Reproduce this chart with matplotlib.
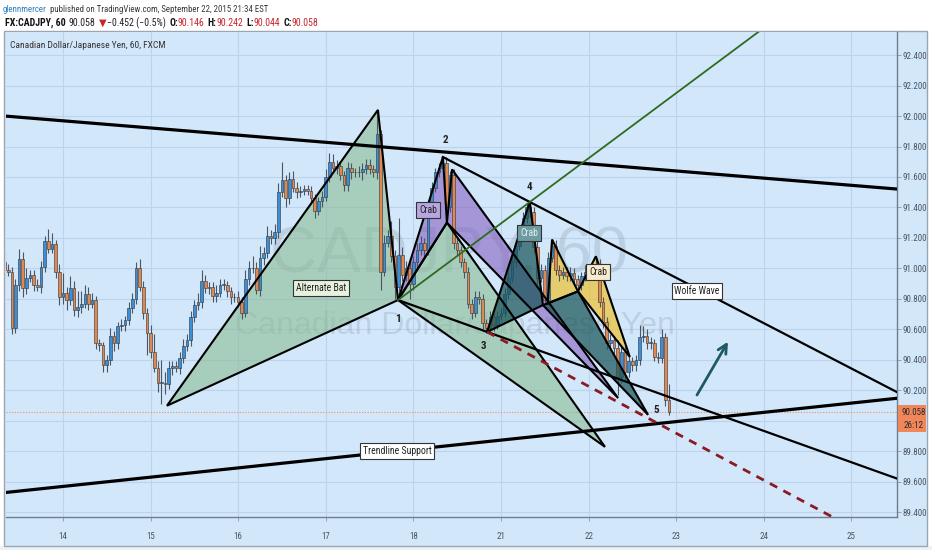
import matplotlib
matplotlib.use("Agg")
import matplotlib.pyplot as plt
import matplotlib.font_manager as fm
from matplotlib.patches import Polygon, Rectangle
from matplotlib.colors import to_rgba
import numpy as np

W, H = 932, 550

# hourly closes, CAD/JPY
closes = [
    90.99, 90.98, 90.61, 90.89, 91.06, 90.87, 90.94, 90.96, 90.89, 90.88,
    91.01, 91.18, 91.13, 91.16, 90.98, 90.81, 90.84, 90.79, 90.87, 90.73,
    90.75, 90.77, 90.83, 90.77, 90.79, 90.51, 90.50, 90.37, 90.40, 90.56,
    90.51, 90.62, 90.63, 90.66, 90.74, 90.80, 91.00, 90.88, 90.71, 90.58,
    90.45, 90.35, 90.25, 90.25, 90.24, 90.35, 90.36, 90.35, 90.41, 90.49,
    90.53, 90.68, 90.76, 90.78, 90.92, 90.87, 90.88, 90.82, 90.84, 90.89,
    90.89, 90.85, 90.81, 90.81, 90.78, 90.71, 90.93, 91.00, 91.00, 90.86,
    91.07, 91.10, 91.21, 91.20, 91.24, 91.50, 91.58, 91.46, 91.59, 91.53,
    91.50, 91.51, 91.52, 91.51, 91.46, 91.38, 91.44, 91.47, 91.60, 91.70,
    91.66, 91.67, 91.61, 91.55, 91.66, 91.63, 91.63, 91.63, 91.65, 91.68,
    91.65, 91.63, 91.88, 90.98, 91.17, 91.21, 91.08, 90.88, 91.09, 90.96,
    91.00, 90.90, 91.04, 91.12, 91.17, 91.12, 91.40, 91.53, 91.63, 91.66,
    91.69, 91.40, 91.61, 91.17, 91.12, 91.04, 90.98, 90.77, 90.71, 90.81,
    90.80, 90.64, 90.61, 90.68, 90.63, 90.69, 90.71, 90.83, 90.94, 91.04,
    91.15, 91.24, 91.33, 91.40, 91.37, 91.14, 90.94, 90.99, 90.79, 91.07,
    91.15, 90.99, 90.96, 90.98, 90.95, 90.97, 90.93, 90.89, 90.95, 90.98,
    90.99, 91.00, 91.02, 90.78, 90.65, 90.51, 90.53, 90.48, 90.29, 90.45,
    90.32, 90.39, 90.37, 90.40, 90.55, 90.56, 90.51, 90.51, 90.42, 90.41,
    90.55, 90.14, 90.058,
]
# wick lengths above / below the body, in pips (0.01)
up_wick = [
    8, 4, 3, 4, 7, 5, 6, 3, 3, 4,
    4, 3, 8, 7, 3, 5, 13, 4, 8, 5,
    10, 8, 6, 5, 5, 3, 3, 2, 3, 5,
    3, 3, 4, 3, 4, 4, 4, 6, 4, 3,
    5, 12, 4, 15, 7, 4, 3, 3, 4, 5,
    4, 4, 3, 6, 7, 4, 3, 3, 5, 4,
    4, 3, 3, 3, 4, 3, 6, 5, 8, 4,
    8, 4, 7, 4, 5, 6, 12, 3, 4, 5,
    4, 3, 3, 3, 3, 3, 3, 4, 5, 6,
    5, 4, 3, 3, 4, 3, 3, 4, 4, 4,
    4, 3, 16, 3, 5, 4, 10, 4, 24, 5,
    5, 4, 4, 5, 4, 3, 4, 4, 3, 3,
    4, 4, 3, 4, 3, 3, 3, 3, 3, 4,
    4, 3, 3, 4, 3, 3, 3, 4, 4, 4,
    4, 4, 4, 3, 4, 3, 4, 4, 3, 4,
    4, 4, 3, 3, 3, 4, 3, 3, 3, 4,
    3, 3, 5, 4, 3, 3, 4, 3, 5, 4,
    4, 4, 3, 3, 8, 6, 4, 4, 3, 3,
    5, 3, 10,
]
dn_wick = [
    5, 3, 4, 3, 4, 6, 4, 3, 4, 3,
    4, 3, 3, 3, 4, 5, 4, 6, 3, 4,
    5, 4, 3, 4, 3, 4, 4, 5, 5, 3,
    5, 4, 3, 4, 3, 3, 3, 3, 4, 15,
    4, 3, 6, 14, 6, 3, 5, 3, 4, 3,
    3, 4, 3, 3, 4, 3, 4, 4, 4, 3,
    3, 4, 4, 3, 3, 4, 3, 4, 3, 3,
    4, 5, 3, 4, 4, 4, 3, 6, 4, 3,
    4, 3, 3, 3, 4, 5, 3, 4, 3, 3,
    3, 4, 3, 4, 4, 4, 3, 3, 5, 3,
    3, 3, 4, 12, 3, 3, 4, 8, 3, 4,
    4, 10, 4, 4, 3, 4, 3, 3, 3, 3,
    3, 4, 3, 4, 3, 3, 4, 3, 4, 3,
    3, 4, 3, 3, 4, 3, 3, 3, 3, 3,
    3, 3, 3, 3, 3, 4, 4, 3, 4, 3,
    3, 3, 4, 3, 3, 3, 4, 3, 3, 3,
    3, 3, 3, 3, 4, 4, 3, 4, 12, 4,
    5, 3, 4, 4, 3, 3, 4, 4, 3, 3,
    3, 4, 2,
]
first_open = 91.04
first_bar = -16  # bar index of the first candle (0 = start of the 14th)

day_pos = [0, 24, 48, 72, 96, 120, 144, 168, 192, 216]
day_labels = ["14", "15", "16", "17", "18", "21", "22", "23", "24", "25"]
price_ticks = [89.4, 89.6, 89.8, 90.0, 90.2, 90.4, 90.6, 90.8,
               91.0, 91.2, 91.4, 91.6, 91.8, 92.0, 92.2, 92.4]
last_price = 90.058

# harmonic patterns: X, A, B, C, D  (bar index, price)
bat_pts = [(28.5, 90.10), (86.3, 92.04), (91.8, 90.793), (105.2, 91.30), (148.5, 89.83)]
purple_pts = [(91.8, 90.793), (104.1, 91.731), (105.2, 91.30), (106.6, 91.65), (152.1, 90.15)]
teal_pts = [(116.2, 90.584), (127.9, 91.436), (131.5, 90.76), (141.1, 90.85), (160.3, 90.04)]
yellow_pts = [(132.8, 90.77), (134.0, 91.19), (141.1, 90.85), (146.0, 91.08), (155.3, 90.42)]

# wolfe wave points 1..5
wolfe = [(91.8, 90.793), (104.1, 91.731), (116.2, 90.584), (127.9, 91.436), (162.5, 89.99)]

resistance = [(-16, 92.00), (229, 91.52)]
support = [(-16, 89.53), (229, 90.15)]
arrow_from = (173.7, 90.17)
arrow_to = (182.2, 90.52)

# fonts
names = {f.name for f in fm.fontManager.ttflist}
NARROW = next((n for n in ["Liberation Sans Narrow", "Roboto Condensed"] if n in names),
              "Liberation Sans")
FAM = [NARROW, "DejaVu Sans"]
plt.rcParams["font.family"] = ["Liberation Sans", "DejaVu Sans"]

BG = "#d3e7fb"
fig = plt.figure(figsize=(W / 100, H / 100), dpi=100, facecolor="white")

# outer chart panel (price axis + time axis area)
fig.add_artist(Rectangle((0, 0), 1, 4 / H, transform=fig.transFigure,
                         facecolor="#edf2f7", edgecolor="none", zorder=0))
fig.add_artist(Rectangle((4 / W, 1 - 546 / H), 923 / W, 515 / H, transform=fig.transFigure,
                         facecolor=BG, edgecolor="#9aa6b2", linewidth=1.0, zorder=0))

ax = fig.add_axes([6 / W, 1 - 517 / H, 891 / W, 485 / H])
ax.set_facecolor(BG)
ax.set_xlim(-15.6, 228.5)
ax.set_ylim(89.37, 92.551)
ax.set_axisbelow(True)

# grid / ticks
ax.set_xticks(day_pos)
ax.set_xticklabels(day_labels)
ax.set_yticks(price_ticks)
ax.set_yticklabels([f"{v:.3f}" for v in price_ticks])
ax.yaxis.tick_right()
ax.grid(True, color="#bcd3ec", linewidth=0.8)
ax.tick_params(axis="y", length=3, width=0.6, colors="#8a96a2", labelcolor="#4a5560",
               labelsize=6.5, pad=1)
ax.tick_params(axis="x", length=3, width=0.6, colors="#8a96a2", labelcolor="#4a5560",
               labelsize=6.5, pad=8)
for lab in ax.get_xticklabels() + ax.get_yticklabels():
    lab.set_family(FAM)
for side in ["top", "left"]:
    ax.spines[side].set_visible(False)
for side in ["right", "bottom"]:
    ax.spines[side].set_color("#6f7e8c")
    ax.spines[side].set_linewidth(1.0)

# watermark
ax.text(0.497, 0.54, "CADJPY, 60", transform=ax.transAxes, ha="center", va="center",
        fontsize=47, color="#7d8fa0", alpha=0.26, family="Liberation Sans", zorder=1)
ax.text(0.504, 0.394, "Canadian Dollar/Japanese Yen", transform=ax.transAxes, ha="center",
        va="center", fontsize=23, color="#7d8fa0", alpha=0.26, family="Liberation Sans", zorder=1)
ax.text(4 / 891, 1 - 13 / 485, "Canadian Dollar/Japanese Yen, 60, FXCM", transform=ax.transAxes,
        ha="left", va="center", fontsize=6.8, color="#333333", family=FAM, zorder=8)

# last price dotted line
ax.axhline(last_price, color="#f0905a", linewidth=0.8, linestyle=(0, (1, 1.5)), zorder=1.5)

# candles
c = np.array(closes)
o = np.concatenate([[first_open], c[:-1]])
x = np.arange(len(c)) + first_bar
hi = np.maximum(o, c) + np.array(up_wick) / 100
lo = np.minimum(o, c) - np.array(dn_wick) / 100
up = c >= o
ax.vlines(x, lo, hi, color="#4d5660", linewidth=0.8, zorder=3)
body = np.maximum(np.abs(c - o), 0.005)
ax.bar(x, body, bottom=np.minimum(o, c), width=0.72,
       color=np.where(up, "#3b8fd8", "#e0884f"), edgecolor="#2e3238", linewidth=0.4, zorder=3.2)


def pattern(pts, color, alpha, z_fill):
    X, A, B, C, D = pts
    for tri in ([X, A, B], [B, C, D]):
        ax.add_patch(Polygon(tri, closed=True, facecolor=to_rgba(color, alpha),
                             edgecolor="none", zorder=z_fill))
        ax.add_patch(Polygon(tri, closed=True, fill=False, edgecolor="black",
                             linewidth=1.5, joinstyle="miter", zorder=5))


pattern(bat_pts, "#8bbc95", 0.6, 2)
pattern(purple_pts, "#8660bf", 0.6, 2.1)
pattern(yellow_pts, "#eec232", 0.7, 2.2)
pattern(teal_pts, "#1a5458", 0.72, 3.5)


def ray(p, q, **kw):
    # segment from p through q, extended far to the right (clipped by the axes)
    k = 400 / (q[0] - p[0])
    ax.plot([p[0], p[0] + k * (q[0] - p[0])], [p[1], p[1] + k * (q[1] - p[1])], **kw)


ax.plot(*zip(*resistance), color="black", linewidth=2.3, zorder=5)
ax.plot(*zip(*support), color="black", linewidth=2.3, zorder=5)
ray(wolfe[0], wolfe[2], color="black", linewidth=1.6, zorder=5)
ray(wolfe[1], wolfe[3], color="black", linewidth=1.6, zorder=5)
ray(wolfe[0], wolfe[3], color="#2f6a1f", linewidth=1.3, zorder=5)
ray(wolfe[2], wolfe[4], color="#8b1a22", linewidth=2.0, linestyle=(0, (3, 2.5)), zorder=5)

ax.annotate("", xy=arrow_to, xytext=arrow_from,
            arrowprops=dict(arrowstyle="->", color="#1d5a66", linewidth=2.0,
                            mutation_scale=16, shrinkA=0, shrinkB=0), zorder=6)

# point numbers
num_off = [(0, -0.125), (0.8, 0.11), (-1.1, -0.095), (-0.2, 0.10), (0.1, 0.085)]
for i, ((px, py), (dx, dy)) in enumerate(zip(wolfe, num_off)):
    ax.text(px + dx, py + dy, str(i + 1), ha="center", va="center", fontsize=8,
            fontweight="bold", color="#222222", family=FAM, zorder=7)


def label(xv, yv, s, fc, tc="#222222"):
    ax.text(xv, yv, s, ha="center", va="center", fontsize=7, color=tc, family=FAM, zorder=7,
            bbox=dict(boxstyle="square,pad=0.28", facecolor=fc, edgecolor="#333333", linewidth=0.8))


label(70.7, 90.872, "Alternate Bat", "#e6f1de")
label(100.0, 91.384, "Crab", "#b7a6e2")
label(127.7, 91.233, "Crab", "#6c9ca2", tc="#e6eeee")
label(146.6, 90.977, "Crab", "#f7ebcf")
label(173.7, 90.852, "Wolfe Wave", "white")
label(91.5, 89.803, "Trendline Support", "white")

# last price tag on the price axis
yt = ax.get_yaxis_transform()
ax.add_patch(Rectangle((1.001, last_price - 0.13), 0.031, 0.175, transform=yt,
                       facecolor="#f0865a", edgecolor="none", clip_on=False, zorder=10))
ax.text(1.005, last_price, f"{last_price:.3f}", transform=yt, ha="left", va="center",
        fontsize=6.5, color="#2a2a2a", family=FAM, clip_on=False, zorder=11)
ax.text(1.007, last_price - 0.085, "26:12", transform=yt, ha="left", va="center",
        fontsize=6.5, color="#2a2a2a", family=FAM, clip_on=False, zorder=11)

# header lines
renderer = fig.canvas.get_renderer()


def text_run(xp, yp, parts, size):
    for s, color, weight, gap in parts:
        t = fig.text(xp / W, 1 - yp / H, s, fontsize=size, color=color, fontweight=weight,
                     family=FAM, ha="left", va="center")
        xp += t.get_window_extent(renderer).width + gap


RED = "#c8252c"
text_run(3, 9, [("glennmercer", "#2f7fc1", "normal", 3),
                ("published on TradingView.com, September 22, 2015 21:34 EST", "#3a3a3a", "normal", 0)], 6.4)
text_run(5, 23, [("FX:CADJPY, 60", "#111111", "bold", 3),
                 ("90.058", "#222222", "normal", 3),
                 ("\u25bc", RED, "normal", 1),
                 ("\u22120.452 (\u22120.5%)", "#222222", "normal", 3),
                 ("O:", "#111111", "bold", 0), ("90.146", RED, "normal", 3),
                 ("H:", "#111111", "bold", 0), ("90.242", RED, "normal", 3),
                 ("L:", "#111111", "bold", 0), ("90.044", RED, "normal", 3),
                 ("C:", "#111111", "bold", 0), ("90.058", RED, "normal", 0)], 7.1)

fig.savefig("out.png", dpi=100, facecolor=fig.get_facecolor())
